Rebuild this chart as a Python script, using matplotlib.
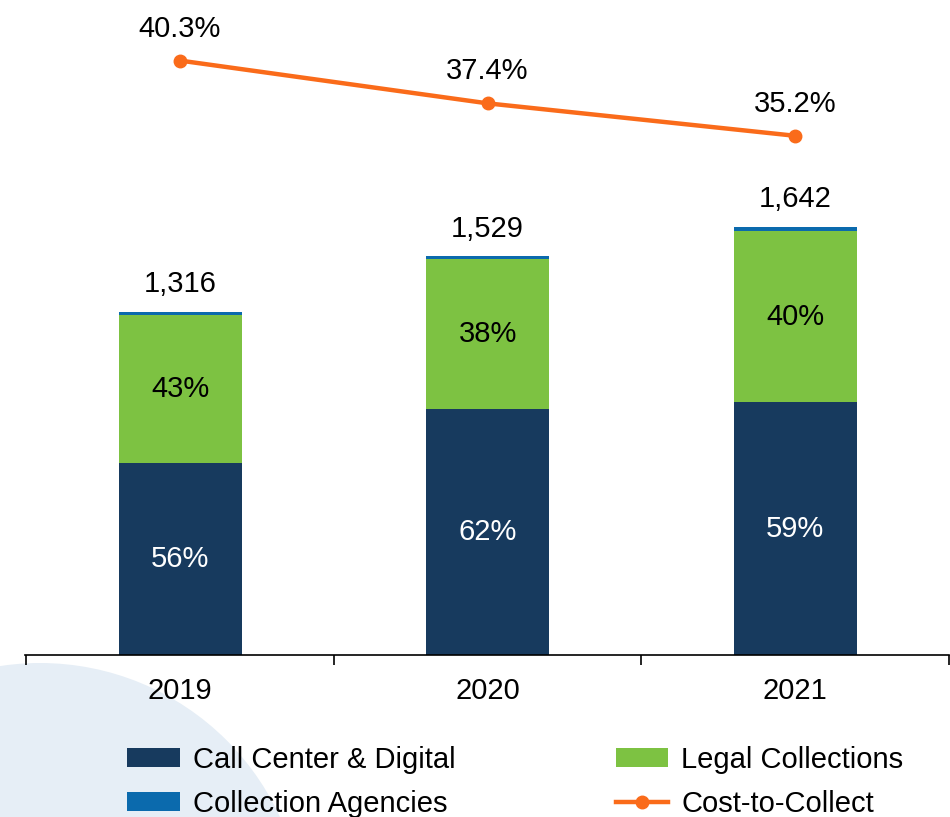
import numpy as np
import matplotlib.pyplot as plt
from matplotlib.patches import Ellipse

plt.rcParams['font.family'] = ['Liberation Sans', 'DejaVu Sans']

years = ['2019', '2020', '2021']
call_center = [737, 944, 969]
legal = [566, 576, 657]
agencies = [13, 9, 16]
totals = [1316, 1529, 1642]
call_pct = ['56%', '62%', '59%']
legal_pct = ['43%', '38%', '40%']
cost_to_collect = [40.3, 37.4, 35.2]

c_dark = '#173a5e'
c_green = '#7dc242'
c_blue = '#0b6aad'
c_orange = '#fa6b1a'
fs = 21

fig = plt.figure(figsize=(9.5, 8.17), dpi=100)

# pale circle in the lower left corner
fig.add_artist(Ellipse((40 / 950, 1 - 927 / 817), 2 * 264 / 950, 2 * 264 / 817,
                       transform=fig.transFigure, color='#e6eef6', zorder=0, lw=0))

ax = fig.add_axes([25 / 950, 162 / 817, 924 / 950, 655 / 817])
ax.patch.set_alpha(0)
x = np.arange(len(years))
w = 0.40

b1 = ax.bar(x, call_center, w, color=c_dark, label='Call Center & Digital')
b2 = ax.bar(x, legal, w, bottom=call_center, color=c_green, label='Legal Collections')
bottom2 = np.array(call_center) + np.array(legal)
b3 = ax.bar(x, agencies, w, bottom=bottom2, color=c_blue, label='Collection Agencies')

for i in range(len(years)):
    ax.text(x[i], call_center[i] / 2, call_pct[i], ha='center', va='center',
            color='white', fontsize=fs)
    ax.text(x[i], call_center[i] + legal[i] / 2, legal_pct[i], ha='center',
            va='center', color='black', fontsize=fs)
    ax.annotate(f'{totals[i]:,}', (x[i], totals[i]), xytext=(0, 10),
                textcoords='offset points', ha='center', va='bottom', fontsize=fs)

ax.set_xlim(-0.504, 2.5)
ax.set_ylim(0, 2513)
ax.set_yticks([])
for s in ['top', 'right', 'left']:
    ax.spines[s].set_visible(False)
ax.spines['bottom'].set_linewidth(1.2)
ax.set_xticks([-0.5, 0.5, 1.5, 2.5])
ax.set_xticklabels([])
ax.set_xticks(x, minor=True)
ax.set_xticklabels(years, minor=True, fontsize=fs)
ax.tick_params(axis='x', which='major', length=7, width=1.2, direction='out')
ax.tick_params(axis='x', which='minor', length=0, pad=16)

ax2 = ax.twinx()
ax2.set_ylim(0, 655 / 14.75)
ax2.axis('off')
ln, = ax2.plot(x, cost_to_collect, color=c_orange, lw=3.2, marker='o',
               markersize=9, label='Cost-to-Collect')
for i in range(len(years)):
    ax2.annotate(f'{cost_to_collect[i]}%', (x[i], cost_to_collect[i]),
                 xytext=(0, 13), textcoords='offset points', ha='center',
                 va='bottom', fontsize=fs)

fig.legend([b1, b3, b2, ln],
           ['Call Center & Digital', 'Collection Agencies', 'Legal Collections', 'Cost-to-Collect'],
           ncol=2, loc='center left', bbox_to_anchor=(127 / 950, 35 / 817),
           frameon=False, fontsize=fs, borderpad=0, borderaxespad=0,
           handlelength=1.8, handleheight=0.6, handletextpad=0.45,
           columnspacing=5.5, labelspacing=0.55)

fig.savefig('out.png', dpi=100)
